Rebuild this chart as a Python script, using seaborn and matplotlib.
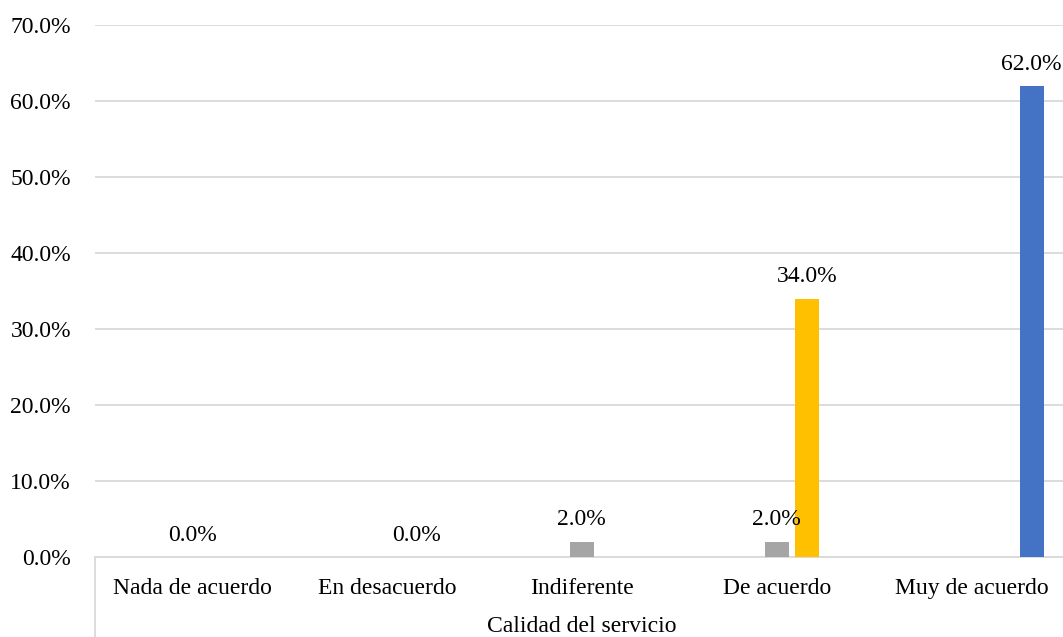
import numpy as np
import pandas as pd
import matplotlib
matplotlib.use("Agg")
import matplotlib.pyplot as plt
import seaborn as sns
from matplotlib.ticker import FuncFormatter

categories = ["Nada de acuerdo", "En desacuerdo", "Indiferente", "De acuerdo", "Muy de acuerdo"]
series = ["Serie 1", "Serie 2", "Serie 3", "Serie 4", "Serie 5"]
serie1 = [np.nan, np.nan, np.nan, np.nan, np.nan]
serie2 = [np.nan, np.nan, np.nan, np.nan, np.nan]
serie3 = [0.0, np.nan, 2.0, 2.0, np.nan]
serie4 = [np.nan, 0.0, np.nan, 34.0, np.nan]
serie5 = [np.nan, np.nan, np.nan, np.nan, 62.0]
colors = ["#4472C4", "#ED7D31", "#A5A5A5", "#FFC000", "#4472C4"]
x_title = "Calidad del servicio"
yticks = [0, 10, 20, 30, 40, 50, 60, 70]

rows = []
for s, vals in zip(series, [serie1, serie2, serie3, serie4, serie5]):
    for c, v in zip(categories, vals):
        rows.append({"cat": c, "serie": s, "val": v})
df = pd.DataFrame(rows).dropna()

sns.set_theme(style="white")
plt.rcParams["font.family"] = ["Liberation Serif", "DejaVu Serif"]
fs = 17

fig = plt.figure(figsize=(10.63, 6.37), dpi=100)
ax = fig.add_axes([94.6 / 1063, (637 - 556.7) / 637, (1069 - 94.6) / 1063, (556.7 - 25.3) / 637])

sns.barplot(data=df, x="cat", y="val", hue="serie", order=categories, hue_order=series,
            palette=dict(zip(series, colors)), width=0.77, gap=0.2, dodge=True,
            errorbar=None, legend=False, ax=ax, saturation=1, zorder=3, linewidth=0)

for cont in ax.containers:
    ax.bar_label(cont, fmt=lambda v: f"{v:.1f}%", padding=8, fontsize=fs, color="#000000")

ax.set_ylim(0, 70)
ax.set_xlim(-0.5, 4.5)
ax.set_yticks(yticks)
ax.yaxis.set_major_formatter(FuncFormatter(lambda v, p: f"{v:.1f}%"))
ax.grid(axis="y", color="#D9D9D9", linewidth=1.3, zorder=0)
ax.set_axisbelow(True)
for sp in ["left", "right", "top"]:
    ax.spines[sp].set_visible(False)
ax.spines["bottom"].set_color("#D9D9D9")
ax.spines["bottom"].set_linewidth(1.3)
ax.tick_params(axis="y", length=0, pad=17, labelsize=fs, labelcolor="#000000")
ax.tick_params(axis="x", length=0, pad=15.5, labelsize=fs, labelcolor="#000000")
ax.set_ylabel("")
ax.set_xlabel(x_title, fontsize=fs, color="#000000", labelpad=12)
ax.plot([0, 0], [0, -0.2], transform=ax.transAxes, color="#D9D9D9", linewidth=1.3, clip_on=False)

fig.savefig("out.png", dpi=100)
